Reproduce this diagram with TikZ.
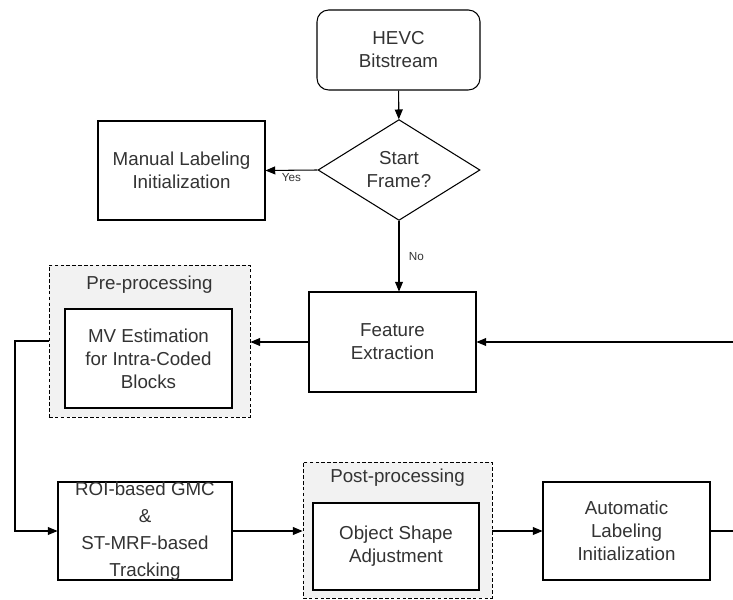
\documentclass[tikz,border=0pt]{standalone}
\usepackage{fontspec}
\setmainfont{Liberation Sans}
\usepackage{tikz}
\usetikzlibrary{shapes,arrows}

\begin{document}
\begin{tikzpicture}[x=0.03cm,y=-0.03cm,
  every node/.style={text=black!80},
  txt/.style={font=\fontsize{16}{19.6}\selectfont,align=center},
  box/.style={draw=black,line width=0.9pt,fill=white,inner sep=0pt,txt},
  grp/.style={draw=black,line width=0.8pt,densely dashed,fill=gray!10,inner sep=0pt},
  lbl/.style={font=\fontsize{10}{12}\selectfont,inner sep=2pt},
  link/.style={line width=0.9pt,-triangle 45}]
  %\draw[step=10,gray,very thin] (0,0) grid (733,600);
  \useasboundingbox (0,0) rectangle (733,600);

  %top
  \node[box,rounded corners=10pt,minimum width=4.89cm,minimum height=2.4cm] (hevc) at (398.5,50) {HEVC\\Bitstream};
  \node[box,diamond,minimum width=4.86cm,minimum height=2.88cm] (start) at (399,170) {Start\\Frame?};
  \node[box,minimum width=5.01cm,minimum height=2.97cm] (manual) at (181.5,170.5) {Manual Labeling\\Initialization};
  \node[box,minimum width=5.01cm,minimum height=3.0cm] (feat) at (392.5,342) {Feature\\Extraction};

  %pre-processing
  \node[grp,minimum width=6.03cm,minimum height=4.56cm] (pre) at (149.5,341) {};
  \node[txt] (prelabel) at (149.5,285) {Pre-processing};
  \node[box,minimum width=5.01cm,minimum height=2.97cm] (mv) at (148.5,358.5) {MV Estimation\\for Intra-Coded\\Blocks};

  %tracking
  \node[box,minimum width=5.22cm,minimum height=2.94cm] (roi) at (145,531) {};
  \node[txt,font=\fontsize{16}{23}\selectfont] (roitext) at (roi) {ROI-based GMC\\\&\\ST-MRF-based\\Tracking};

  %post-processing
  \node[grp,minimum width=5.67cm,minimum height=4.08cm] (post) at (397.5,530) {};
  \node[txt] (postlabel) at (397.5,478) {Post-processing};
  \node[box,minimum width=4.98cm,minimum height=2.61cm] (shape) at (396,546.5) {Object Shape\\Adjustment};
  \node[box,minimum width=5.01cm,minimum height=2.94cm] (auto) at (626.5,531) {Automatic\\Labeling\\Initialization};

  \coordinate (loopin) at (733,342);
  \coordinate (loopout) at (733,531);
  \coordinate (lft) at (15,341);

  %arrows
  \draw[link] (hevc) -- (start);
  \draw[link] (start.west) -- (manual.east) node[lbl,midway,below] {Yes};
  \draw[link] (start.south) -- (start.south |- feat.north) node[lbl,midway,right=6pt] {No};
  \draw[link] (loopin) -- (feat.east);
  \draw[link] (feat.west) -- (feat.west -| pre.east);
  \draw[link] (pre.west) -- (lft) |- (roi.west);
  \draw[link] (roi.east) -- (roi.east -| post.west);
  \draw[link] (post.east |- auto.west) -- (auto.west);
  \draw[line width=0.9pt] (auto.east) -- (loopout);

\end{tikzpicture}
\end{document}
